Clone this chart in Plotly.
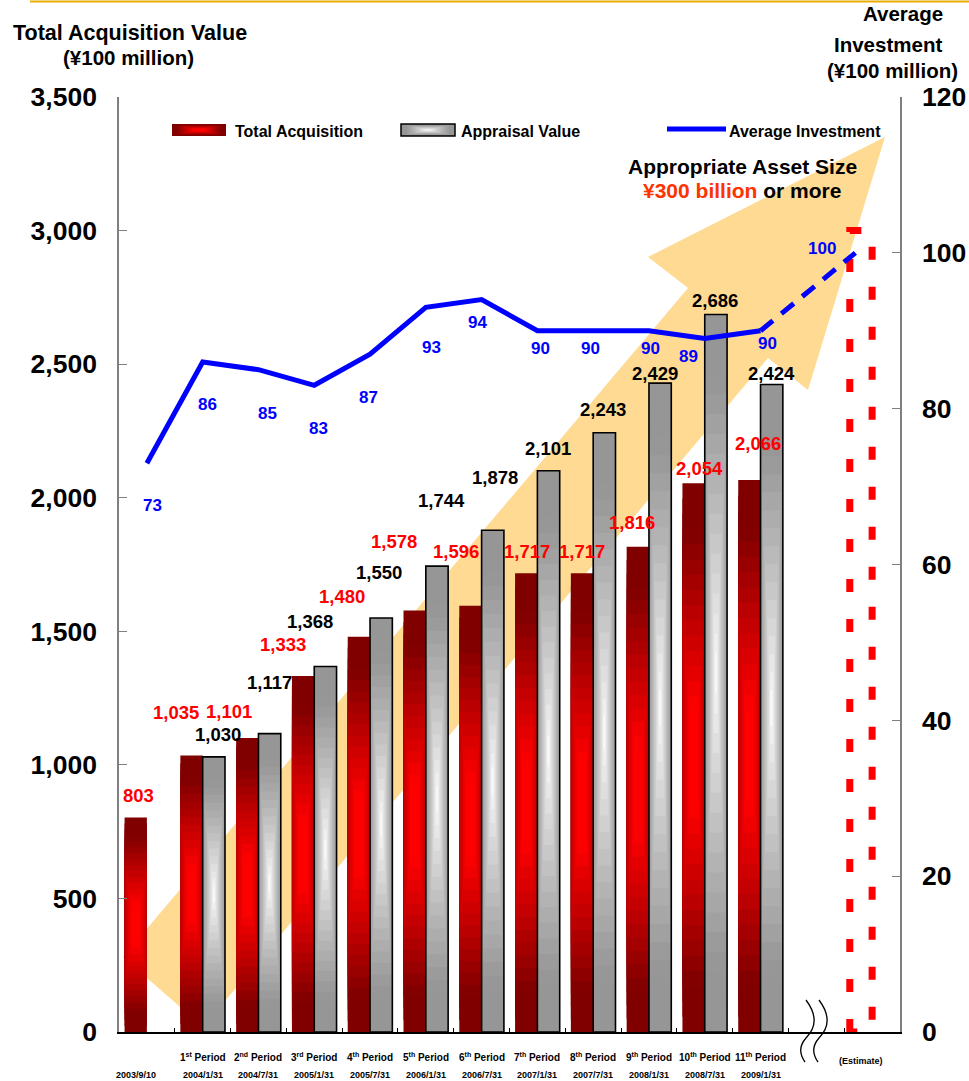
import numpy as np
import plotly.graph_objects as go

# ---------------- data ----------------
period_labels = ["", "1<sup>st</sup> Period", "2<sup>nd</sup> Period", "3<sup>rd</sup> Period",
                 "4<sup>th</sup> Period", "5<sup>th</sup> Period", "6<sup>th</sup> Period",
                 "7<sup>th</sup> Period", "8<sup>th</sup> Period", "9<sup>th</sup> Period",
                 "10<sup>th</sup> Period", "11<sup>th</sup> Period"]
date_labels = ["2003/9/10", "2004/1/31", "2004/7/31", "2005/1/31", "2005/7/31", "2006/1/31",
               "2006/7/31", "2007/1/31", "2007/7/31", "2008/1/31", "2008/7/31", "2009/1/31"]
total_acquisition = [803, 1035, 1101, 1333, 1480, 1578, 1596, 1717, 1717, 1816, 2054, 2066]
appraisal_value = [None, 1030, 1117, 1368, 1550, 1744, 1878, 2101, 2243, 2429, 2686, 2424]
average_investment = [73, 86, 85, 83, 87, 93, 94, 90, 90, 90, 89, 90]
estimate_asset_size = 3000
estimate_average = 100
estimate_label = "(Estimate)"
left_ticks = [0, 500, 1000, 1500, 2000, 2500, 3000, 3500]
right_ticks = [0, 20, 40, 60, 80, 100, 120]

# ---------------- label placement (pixel nudges) ----------------
acq_dx = [3, -15.5, -18, -20, -17, -21, -14.5, 0.7, 0, -6, 6, 8.5]
acq_up = [21.5, 43.5, 26, 31, 40.6, 68.5, 54.6, 22.3, 22.3, 24, 14.3, 37]
appr_dx = [0, 4, 0, -15.5, -2, 5, 2, -1, -1.5, -5, -1, 0]
appr_up = [0, 22.8, 51.6, 44.6, 45, 66, 53, 22.7, 23.8, 10, 13.5, 11.4]
avg_dx = [6, 5, 9, 4, -2, 6, -4, 3, -3, 2, -16, 7]
avg_dn = [42, 43, 44, 43, 43, 40, 23, 18, 18, 18, 17.5, 13]

# ---------------- geometry ----------------
W, H = 969, 1081
ML, MR, MT, MB = 119, 69, 97, 49
PW = W - ML - MR
PH = H - MT - MB


def fx(x):
    return (x - ML) / PW


def fy(y):
    return (H - MB - y) / PH


FONT = "Liberation Sans, Arial, Helvetica, sans-serif"
n = len(total_acquisition)
idx = np.arange(n)
est_idx = n + 1
BW = 0.4

RED_EDGE, RED_CENTER = (128, 0, 0), (255, 0, 0)
GRAY_EDGE, GRAY_CENTER = (150, 150, 150), (255, 255, 255)
NL = 18


def mix(a, b, f):
    return "rgb(%d,%d,%d)" % tuple(round(a[j] + (b[j] - a[j]) * f) for j in range(3))


def ramp_red(t):
    return float(np.clip((0.85 - t) / 0.65, 0, 1))


def ramp_gray(t):
    return float(np.clip((0.85 - t) / 0.85, 0, 1)) ** 1.2


fig = go.Figure()

acq = np.array(total_acquisition, float)
appr_pos = [i for i in idx if appraisal_value[i] is not None]
appr = np.array([appraisal_value[i] for i in appr_pos], float)
appr_x = np.array(appr_pos) + BW / 2

for k in range(NL):
    t = 1 - k / NL
    wt = BW * min(1.0, t / 0.5)
    fig.add_bar(x=idx - BW / 2, y=acq * t, base=acq * (1 - t) / 2, width=wt, offset=-wt / 2,
                marker=dict(color=mix(RED_EDGE, RED_CENTER, ramp_red(t)), line_width=0),
                hoverinfo="skip", showlegend=False)
for k in range(NL):
    t = 1 - k / NL
    wt = BW * min(1.0, t / 0.75)
    fig.add_bar(x=appr_x, y=appr * t, base=appr * (1 - t) / 2, width=wt, offset=-wt / 2,
                marker=dict(color=mix(GRAY_EDGE, GRAY_CENTER, ramp_gray(t)), line_width=0),
                hoverinfo="skip", showlegend=False)
fig.add_bar(x=appr_x, y=appr, width=BW, offset=-BW / 2,
            marker=dict(color="rgba(0,0,0,0)", line=dict(color="black", width=1.6)),
            hoverinfo="skip", showlegend=False)

# estimate dashed rectangle
ex0, ex1 = est_idx - BW, est_idx
fig.add_scatter(x=[ex0, ex0, ex1, ex1, ex0],
                y=[0, estimate_asset_size, estimate_asset_size, 0, 0],
                mode="lines", line=dict(color="#FF0000", width=7, dash="13px,27px"),
                hoverinfo="skip", showlegend=False)

# average investment line
fig.add_scatter(x=idx, y=average_investment, yaxis="y2", mode="lines",
                line=dict(color="#0000FF", width=5), hoverinfo="skip", showlegend=False)
fig.add_scatter(x=[idx[-1], est_idx - 0.3], y=[average_investment[-1], estimate_average], yaxis="y2",
                mode="lines", line=dict(color="#0000FF", width=5, dash="16px,11px"),
                hoverinfo="skip", showlegend=False)

ann = []
shapes = []

# value labels
for i in idx:
    ann.append(dict(x=i - BW / 2, y=total_acquisition[i], xref="x", yref="y",
                    text="{:,}".format(total_acquisition[i]), showarrow=False,
                    xshift=acq_dx[i], yshift=acq_up[i], yanchor="middle",
                    font=dict(family=FONT, size=18.5, color="#FF0000", weight="bold")))
    if appraisal_value[i] is not None:
        ann.append(dict(x=i + BW / 2, y=appraisal_value[i], xref="x", yref="y",
                        text="{:,}".format(appraisal_value[i]), showarrow=False,
                        xshift=appr_dx[i], yshift=appr_up[i], yanchor="middle",
                        font=dict(family=FONT, size=18.5, color="black", weight="bold")))
    ann.append(dict(x=i, y=average_investment[i], xref="x", yref="y2",
                    text=str(average_investment[i]), showarrow=False,
                    xshift=avg_dx[i], yshift=-avg_dn[i], yanchor="middle",
                    font=dict(family=FONT, size=17, color="#0000FF", weight="bold")))
ann.append(dict(x=est_idx - 0.3, y=estimate_average, xref="x", yref="y2",
                text=str(estimate_average), showarrow=False, xshift=-33, yshift=4, yanchor="middle",
                font=dict(family=FONT, size=17, color="#0000FF", weight="bold")))

# category labels
for i in idx:
    cx = i if i > 0 else i - BW / 2
    if period_labels[i]:
        ann.append(dict(x=cx, y=fy(1057), xref="x", yref="paper", text=period_labels[i],
                        showarrow=False, yanchor="middle",
                        font=dict(family=FONT, size=10, color="black", weight="bold")))
    ann.append(dict(x=cx, y=fy(1075), xref="x", yref="paper", text=date_labels[i],
                    showarrow=False, yanchor="middle",
                    font=dict(family=FONT, size=9, color="black", weight="bold")))
ann.append(dict(x=est_idx - 0.2, y=fy(1061), xref="x", yref="paper", text=estimate_label,
                showarrow=False, yanchor="middle",
                font=dict(family=FONT, size=9, color="black", weight="bold")))

# axis titles
for txt, x, y, sz in [("Total Acquisition Value", 130, 33, 21.5), ("(¥100 million)", 128, 58, 20.5),
                      ("Average", 903, 14, 20.5), ("Investment", 888, 45, 20.5),
                      ("(¥100 million)", 892, 70, 20.5)]:
    ann.append(dict(x=fx(x), y=fy(y), xref="paper", yref="paper", text=txt, showarrow=False,
                    xanchor="center", yanchor="middle",
                    font=dict(family=FONT, size=sz, color="black", weight="bold")))

# target text
ann.append(dict(x=fx(742), y=fy(166), xref="paper", yref="paper", text="Appropriate Asset Size",
                showarrow=False, xanchor="center", yanchor="middle",
                font=dict(family=FONT, size=21, color="black", weight="bold")))
ann.append(dict(x=fx(742), y=fy(190), xref="paper", yref="paper",
                text="<span style='color:#FF3300'>¥300 billion</span> or more",
                showarrow=False, xanchor="center", yanchor="middle",
                font=dict(family=FONT, size=21, color="black", weight="bold")))

# legend texts
for txt, x in [("Total Acquisition", 233), ("Appraisal Value", 459), ("Average Investment", 727)]:
    ann.append(dict(x=fx(x), y=fy(131), xref="paper", yref="paper", text=txt, showarrow=False,
                    xanchor="left", yanchor="middle",
                    font=dict(family=FONT, size=16, color="black", weight="bold")))


def grad_box(x0, y0, x1, y1, edge, center, ramp, border=None):
    cx, cy = (x0 + x1) / 2, (y0 + y1) / 2
    hw, hh = (x1 - x0) / 2, (y1 - y0) / 2
    for k in range(NL):
        t = 1 - k / NL
        shapes.append(dict(type="rect", xref="paper", yref="paper",
                           x0=fx(cx - hw * t), x1=fx(cx + hw * t), y0=fy(cy - hh * t), y1=fy(cy + hh * t),
                           fillcolor=mix(edge, center, ramp(t)), line_width=0))
    if border:
        shapes.append(dict(type="rect", xref="paper", yref="paper", x0=fx(x0), x1=fx(x1),
                           y0=fy(y0), y1=fy(y1), line=dict(color=border, width=1.5)))


grad_box(172, 124, 226, 136, RED_EDGE, RED_CENTER, ramp_red)
grad_box(401, 124, 455, 136, GRAY_EDGE, GRAY_CENTER, ramp_gray, border="black")
shapes.append(dict(type="line", xref="paper", yref="paper", x0=fx(667), x1=fx(726),
                   y0=fy(129), y1=fy(129), line=dict(color="#0000FF", width=5)))

# big orange arrow (background decoration)
arrow_pts = [(123, 957), (688, 288), (648, 257), (885, 137), (808, 390), (768, 358), (203, 1027)]
path = "M " + " L ".join("%.5f,%.5f" % (fx(x), fy(y)) for x, y in arrow_pts) + " Z"
shapes.append(dict(type="path", xref="paper", yref="paper", path=path, layer="below",
                   fillcolor="rgb(254,218,146)", line_width=0))

# axis break marks
for off in (0, 13):
    pts = [(806 + off, 1000), (818 + off, 1016), (816 + off, 1028), (806 + off, 1038),
           (798 + off, 1047), (800 + off, 1055), (805 + off, 1062)]
    p = "M %.5f,%.5f C %.5f,%.5f %.5f,%.5f %.5f,%.5f C %.5f,%.5f %.5f,%.5f %.5f,%.5f" % (
        fx(pts[0][0]), fy(pts[0][1]), fx(pts[1][0]), fy(pts[1][1]), fx(pts[2][0]), fy(pts[2][1]),
        fx(pts[3][0]), fy(pts[3][1]), fx(pts[4][0]), fy(pts[4][1]), fx(pts[5][0]), fy(pts[5][1]),
        fx(pts[6][0]), fy(pts[6][1]))
    shapes.append(dict(type="path", xref="paper", yref="paper", path=p,
                       line=dict(color="black", width=1.3)))

# gold rule on top
shapes.append(dict(type="line", xref="paper", yref="paper", x0=fx(30), x1=fx(969),
                   y0=fy(1.5), y1=fy(1.5), line=dict(color="rgb(230,172,0)", width=2)))

tickfont = dict(family=FONT, size=26.5, color="black", weight="bold")
fig.update_layout(
    width=W, height=H, margin=dict(l=ML, r=MR, t=MT, b=MB, autoexpand=False),
    paper_bgcolor="white", plot_bgcolor="white", barmode="overlay", showlegend=False,
    annotations=ann, shapes=shapes,
    xaxis=dict(range=[-0.5, est_idx + 0.5], tickvals=[i + 0.5 for i in range(est_idx)],
               ticks="inside", ticklen=4, tickcolor="black", showticklabels=False,
               showline=True, linecolor="black", linewidth=2, showgrid=False, zeroline=False),
    yaxis=dict(range=[0, 3500], tickvals=left_ticks, ticktext=["{:,}".format(v) for v in left_ticks],
               ticks="inside", ticklen=8, tickcolor="#808080", showline=True, linecolor="#808080",
               linewidth=1.5, showgrid=False, zeroline=False, tickfont=tickfont, ticklabelstandoff=15),
    yaxis2=dict(range=[0, 120], tickvals=right_ticks, overlaying="y", side="right",
                ticks="inside", ticklen=8, tickcolor="#808080", showline=True, linecolor="#808080",
                linewidth=1.5, showgrid=False, zeroline=False, tickfont=tickfont, ticklabelstandoff=15),
)

fig.write_html("out.html", config={"displayModeBar": False},
               post_script="document.body.style.margin='0';document.body.style.overflow='hidden';")
